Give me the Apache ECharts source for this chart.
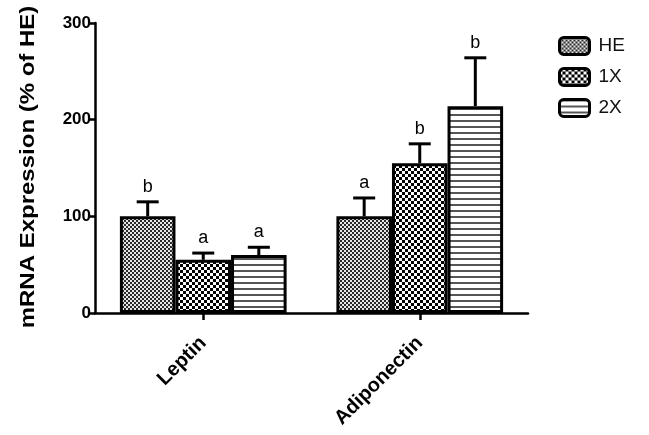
<!DOCTYPE html>
<html>
<head>
<meta charset="utf-8">
<script src="https://cdn.jsdelivr.net/npm/echarts@6/dist/echarts.min.js"></script>
<style>
  html, body { margin: 0; padding: 0; background: #fff; }
  #chart { width: 649px; height: 435px; }
</style>
</head>
<body>
<div id="chart"></div>
<script>
// Genes on the x axis
const genes = ['Leptin', 'Adiponectin'];
// Treatment groups
const groups = ['HE', '1X', '2X'];
// Mean expression (% of HE) per group, in gene order
const meanHE = [100, 100];
const mean1X = [55, 155];
const mean2X = [60, 214];
// Upper error (SEM) per group
const errHE = [15, 19];
const err1X = [7, 20];
const err2X = [8, 50];
// Significance letters per group
const sigHE = ['b', 'a'];
const sig1X = ['a', 'b'];
const sig2X = ['a', 'b'];
// Y axis ticks
const yTicks = [0, 100, 200, 300];
const yTitle = 'mRNA Expression (% of HE)';

const means = [meanHE, mean1X, mean2X];
const errs = [errHE, err1X, err2X];
const sigs = [sigHE, sig1X, sig2X];

const FONT = '"Liberation Sans", Arial, Helvetica, sans-serif';

// Fill patterns drawn on small canvases
function pattern(kind) {
  const c = document.createElement('canvas');
  const ctx = c.getContext('2d');
  if (kind === 'fine') {
    c.width = 4; c.height = 4;
    ctx.fillStyle = '#e6e6e6'; ctx.fillRect(0, 0, 4, 4);
    ctx.fillStyle = '#2a2a2a';
    ctx.fillRect(0, 0, 2, 2); ctx.fillRect(2, 2, 2, 2);
  } else if (kind === 'check') {
    c.width = 6; c.height = 6;
    ctx.fillStyle = '#ffffff'; ctx.fillRect(0, 0, 6, 6);
    ctx.fillStyle = '#000000';
    ctx.fillRect(0, 0, 3, 3); ctx.fillRect(3, 3, 3, 3);
  } else {
    c.width = 6; c.height = 6;
    ctx.fillStyle = '#ffffff'; ctx.fillRect(0, 0, 6, 6);
    ctx.fillStyle = '#555555'; ctx.fillRect(0, 0, 6, 2);
  }
  return { image: c, repeat: 'repeat' };
}
const fills = [pattern('fine'), pattern('check'), pattern('lines')];

const GAP = 0.23;

const barSeries = groups.map((g, i) => ({
  name: g,
  type: 'bar',
  data: means[i],
  barGap: '0%',
  barCategoryGap: (GAP * 100) + '%',
  itemStyle: { color: fills[i], borderColor: '#000', borderWidth: 3 },
  emphasis: { disabled: true },
  z: 2
}));

const errData = [];
groups.forEach((g, i) => {
  genes.forEach((gene, j) => {
    errData.push([j, means[i][j], errs[i][j], sigs[i][j], i]);
  });
});

// Error bars (upper whisker + cap) with the significance letter on top
const errSeries = {
  type: 'custom',
  data: errData,
  encode: { x: 0, y: 1 },
  z: 3,
  silent: true,
  renderItem: function (params, api) {
    const cat = api.value(0);
    const val = api.value(1);
    const err = api.value(2);
    const gi = api.value(4);
    const letter = errData[params.dataIndex][3];
    const band = api.size([1, 0])[0];
    const bw = band * (1 - GAP) / 3;
    const cx = api.coord([cat, 0])[0] + (gi - 1) * bw;
    const yTop = api.coord([cat, val])[1];
    const yCap = api.coord([cat, val + err])[1];
    const half = 11;
    return {
      type: 'group',
      children: [
        { type: 'line', shape: { x1: cx, y1: yTop, x2: cx, y2: yCap },
          style: { stroke: '#000', lineWidth: 3 } },
        { type: 'line', shape: { x1: cx - half, y1: yCap, x2: cx + half, y2: yCap },
          style: { stroke: '#000', lineWidth: 3 } },
        { type: 'text', x: cx, y: yCap - 6,
          style: { text: letter, fill: '#000', font: '18px ' + FONT,
                   align: 'center', verticalAlign: 'bottom' } }
      ]
    };
  }
};

const chart = echarts.init(document.getElementById('chart'), null, { renderer: 'canvas' });
chart.setOption({
  animation: false,
  backgroundColor: '#fff',
  grid: { left: 95, right: 121, top: 23, bottom: 122, containLabel: false },
  legend: {
    data: groups,
    orient: 'vertical',
    left: 553,
    top: 31,
    itemWidth: 30,
    itemHeight: 17,
    itemGap: 11,
    icon: 'roundRect',
    itemStyle: { borderColor: '#000', borderWidth: 3 },
    textStyle: { fontSize: 19, color: '#111', fontFamily: FONT, padding: [0, 0, 0, 4] }
  },
  // y axis title, stretched along its length
  graphic: [{
    type: 'text',
    x: 28,
    y: 167,
    rotation: Math.PI / 2,
    scaleX: 1.2,
    style: {
      text: yTitle,
      font: 'bold 20px ' + FONT,
      fill: '#000',
      align: 'center',
      verticalAlign: 'middle'
    }
  }],
  xAxis: {
    type: 'category',
    data: genes,
    axisLine: { lineStyle: { color: '#000', width: 2.5 } },
    axisTick: { show: true, alignWithLabel: true, length: 7, lineStyle: { color: '#000', width: 2.5 } },
    axisLabel: {
      rotate: 45, margin: 27, color: '#000', fontWeight: 'bold', fontSize: 20,
      fontFamily: FONT
    },
    splitLine: { show: false }
  },
  yAxis: {
    type: 'value',
    min: yTicks[0],
    max: yTicks[yTicks.length - 1],
    interval: 100,
    axisLine: { show: true, lineStyle: { color: '#000', width: 2.5 } },
    axisTick: { show: true, length: 7, lineStyle: { color: '#000', width: 2.5 } },
    axisLabel: { color: '#000', fontWeight: 'bold', fontSize: 17, margin: 4,
                 fontFamily: FONT },
    splitLine: { show: false }
  },
  series: barSeries.concat([errSeries])
});
</script>
</body>
</html>
